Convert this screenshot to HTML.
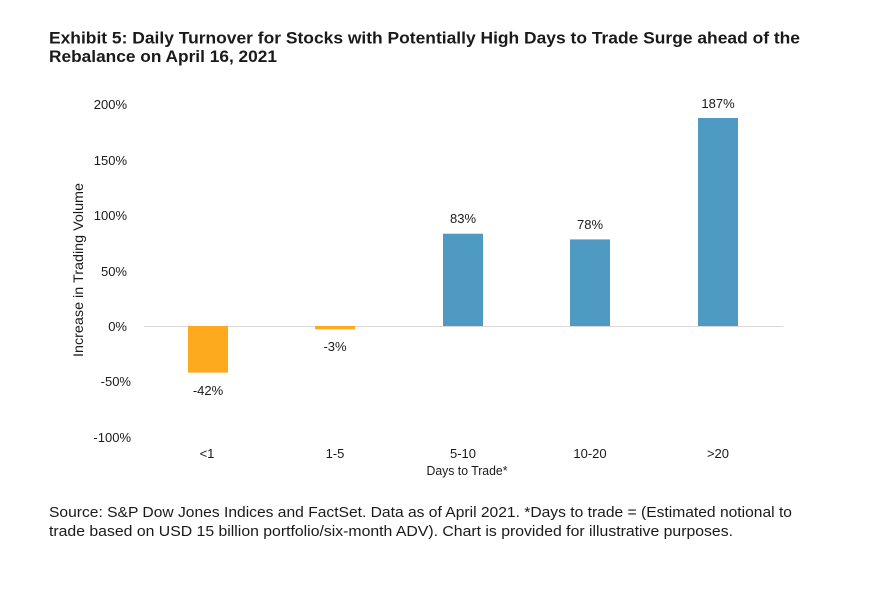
<!DOCTYPE html>
<html>
<head>
<meta charset="utf-8">
<style>
  html, body { margin: 0; padding: 0; background: #ffffff; }
  svg { display: block; }
  text { font-family: "Liberation Sans", Arial, sans-serif; fill: #1a1a1a; }
</style>
</head>
<body>
<svg width="869" height="596" viewBox="0 0 869 596" xmlns="http://www.w3.org/2000/svg">
  <rect x="0" y="0" width="869" height="596" fill="#ffffff"/>

  <!-- Title -->
  <text x="49" y="43.5" font-size="17" font-weight="bold" textLength="751" lengthAdjust="spacingAndGlyphs">Exhibit 5: Daily Turnover for Stocks with Potentially High Days to Trade Surge ahead of the</text>
  <text x="49" y="62" font-size="17" font-weight="bold" textLength="228" lengthAdjust="spacingAndGlyphs">Rebalance on April 16, 2021</text>

  <!-- Y tick labels -->
  <g font-size="13" text-anchor="end">
    <text x="127" y="109">200%</text>
    <text x="127" y="165">150%</text>
    <text x="127" y="220">100%</text>
    <text x="127" y="276">50%</text>
    <text x="127" y="331">0%</text>
    <text x="131" y="386">-50%</text>
    <text x="131" y="442">-100%</text>
  </g>

  <!-- Y axis title -->
  <text transform="translate(83,270) rotate(-90)" font-size="14" text-anchor="middle" textLength="174" lengthAdjust="spacingAndGlyphs">Increase in Trading Volume</text>

  <!-- Zero line -->
  <line x1="144" y1="326.5" x2="783" y2="326.5" stroke="#d9d9d9" stroke-width="1"/>

  <!-- Bars -->
  <rect x="188" y="326" width="40" height="46.6" fill="#FEAA1E"/>
  <rect x="315" y="326" width="40" height="3.3" fill="#FEAA1E"/>
  <rect x="443" y="233.7" width="40" height="92.3" fill="#4F9AC2"/>
  <rect x="570" y="239.4" width="40" height="86.6" fill="#4F9AC2"/>
  <rect x="698" y="118" width="40" height="208" fill="#4F9AC2"/>

  <!-- Data labels -->
  <g font-size="13" text-anchor="middle">
    <text x="208" y="395">-42%</text>
    <text x="335" y="351">-3%</text>
    <text x="463" y="223">83%</text>
    <text x="590" y="229">78%</text>
    <text x="718" y="108">187%</text>
  </g>

  <!-- X category labels -->
  <g font-size="13" text-anchor="middle">
    <text x="207" y="458">&lt;1</text>
    <text x="335" y="458">1-5</text>
    <text x="463" y="458">5-10</text>
    <text x="590" y="458">10-20</text>
    <text x="718" y="458">&gt;20</text>
  </g>

  <!-- X axis title -->
  <text x="467" y="475" font-size="13" text-anchor="middle" textLength="81" lengthAdjust="spacingAndGlyphs">Days to Trade*</text>

  <!-- Footnote -->
  <text x="49" y="517" font-size="14.5" textLength="743" lengthAdjust="spacingAndGlyphs">Source: S&amp;P Dow Jones Indices and FactSet. Data as of April 2021. *Days to trade = (Estimated notional to</text>
  <text x="49" y="536" font-size="14.5" textLength="684" lengthAdjust="spacingAndGlyphs">trade based on USD 15 billion portfolio/six-month ADV). Chart is provided for illustrative purposes.</text>
</svg>
</body>
</html>
